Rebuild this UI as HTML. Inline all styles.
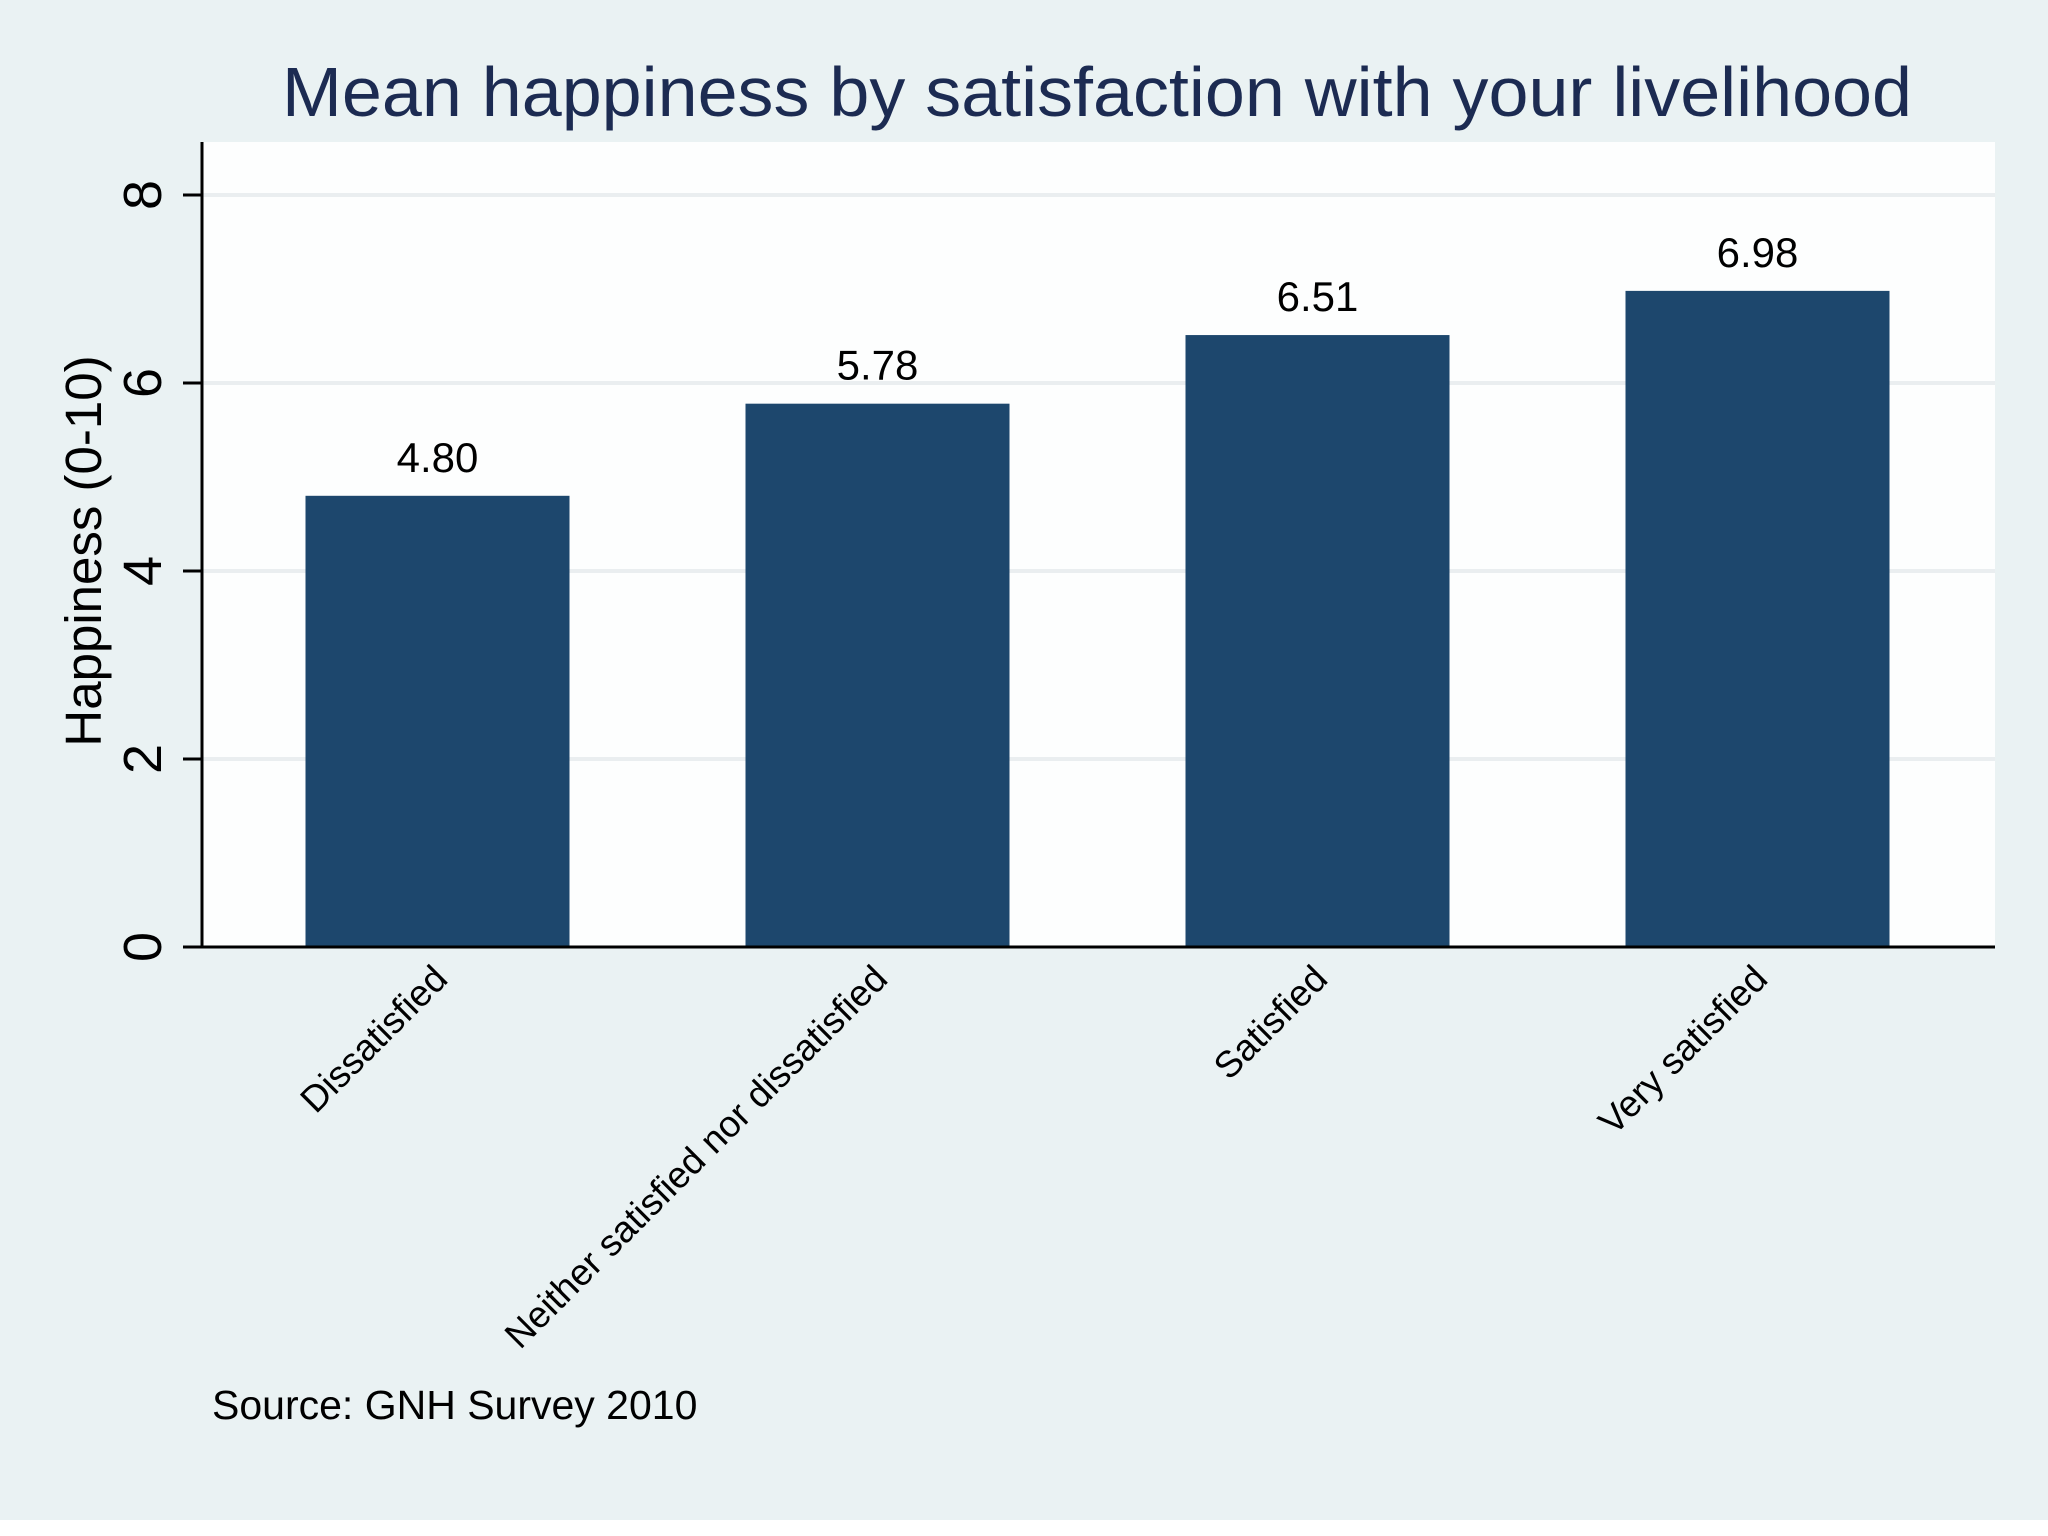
<!DOCTYPE html>
<html><head><meta charset="utf-8"><style>
html,body{margin:0;padding:0;background:#fff;}
svg{display:block;font-family:"Liberation Sans",Arial,sans-serif;}
</style></head><body>
<svg id="chart" width="2048" height="1536" viewBox="0 0 2048 1536">
<rect x="0" y="0" width="2048" height="1520" fill="#eaf2f3"/>
<rect x="202" y="142" width="1793" height="806" fill="#fdfefe"/>
<text x="1097" y="116" font-size="70" fill="#1c2b52" text-anchor="middle" textLength="1630" lengthAdjust="spacingAndGlyphs">Mean happiness by satisfaction with your livelihood</text>
<g id="grid"></g>
<g id="bars"></g>
<g id="axes"></g>
<text transform="translate(101,551) rotate(-90)" font-size="51" text-anchor="middle" fill="#000">Happiness (0-10)</text>
<text x="212" y="1419" font-size="41" fill="#000">Source: GNH Survey 2010</text>
</svg>
<script>
const categories = ["Dissatisfied","Neither satisfied nor dissatisfied","Satisfied","Very satisfied"];
const values = [4.80, 5.78, 6.51, 6.98];
const valueLabels = ["4.80","5.78","6.51","6.98"];
const yTicks = [0, 2, 4, 6, 8];

const NS = "http://www.w3.org/2000/svg";
const plotL = 202, plotR = 1995, y0px = 947, pxPerUnit = 94;
const y = v => y0px - v * pxPerUnit;
const firstCenter = 437.5, bandW = 440;
const barW = 264;
const xCenter = i => firstCenter + bandW * i;

function mk(tag, attrs, parent, text) {
  const el = document.createElementNS(NS, tag);
  for (const k in attrs) el.setAttribute(k, attrs[k]);
  if (text !== undefined) el.textContent = text;
  parent.appendChild(el);
  return el;
}
const grid = document.getElementById('grid');
const bars = document.getElementById('bars');
const axes = document.getElementById('axes');

yTicks.forEach(t => {
  if (t > 0) {
    const g = mk('line', {x1: plotL, x2: plotR, y1: y(t), y2: y(t), stroke: '#eaeef0', 'stroke-width': 4}, grid);
    
    
  }
  const tk = mk('line', {x1: 183, x2: plotL, y1: y(t), y2: y(t), stroke: '#000', 'stroke-width': 3}, axes);
  
  
  const lb = mk('text', {transform: `translate(161,${y(t)}) rotate(-90)`, 'font-size': 54, 'text-anchor': 'middle', fill: '#000'}, axes, String(t));
  
  
});

values.forEach((v, i) => {
  const cx = xCenter(i);
  const r = mk('rect', {x: cx - barW / 2, y: y(v), width: barW, height: y0px - y(v), fill: '#1d476d'}, bars);
  
  
  const vl = mk('text', {x: cx, y: y(v) - 24, 'font-size': 42, 'text-anchor': 'middle', fill: '#000'}, bars, valueLabels[i]);
  
  
  const cl = mk('text', {transform: `translate(${cx + 12},${y0px + 34}) rotate(-45)`, 'font-size': 37, 'text-anchor': 'end', fill: '#000'}, axes, categories[i]);
  
  
});

const ya = mk('line', {x1: plotL, x2: plotL, y1: 142, y2: y0px, stroke: '#000', 'stroke-width': 3}, axes);


const xa = mk('line', {x1: 183, x2: plotR, y1: y0px, y2: y0px, stroke: '#000', 'stroke-width': 3}, axes);


</script>
</body></html>
